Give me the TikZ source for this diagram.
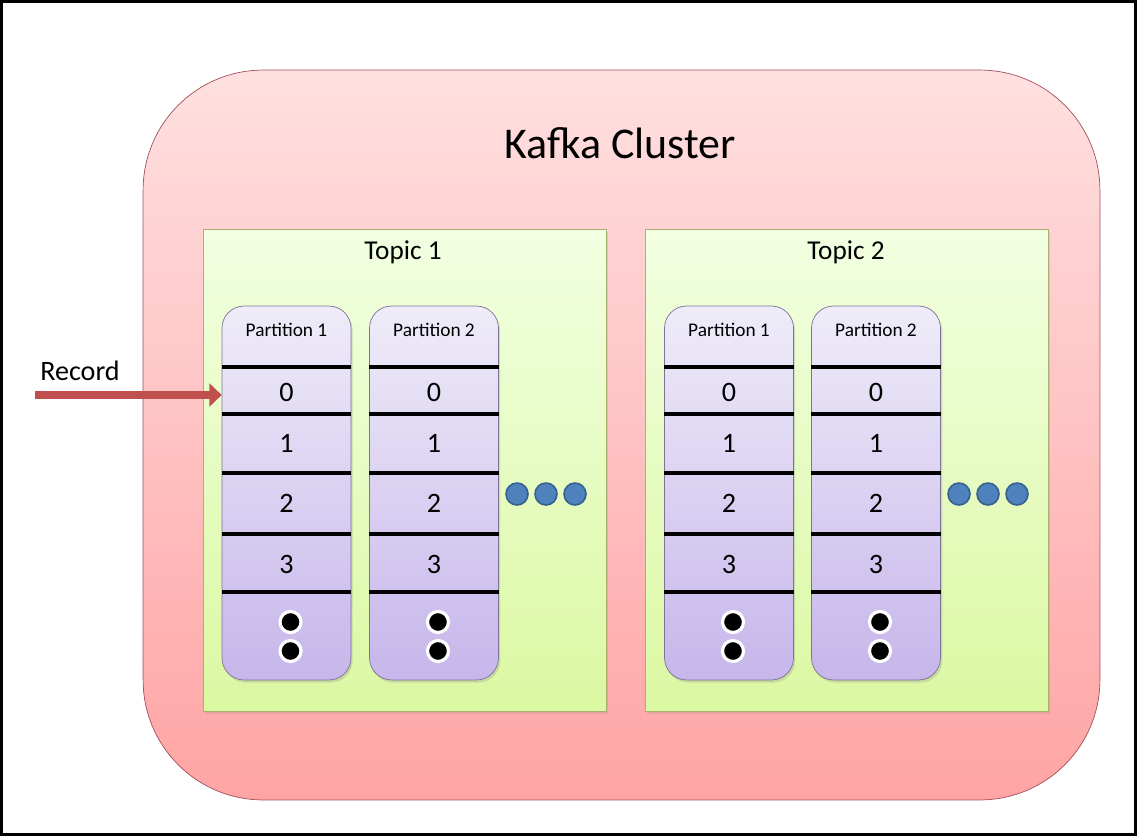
\documentclass[tikz,border=0pt]{standalone}
\usepackage{fontspec}
\setmainfont{Carlito}
\usetikzlibrary{arrows.meta,positioning,shadows}

\definecolor{clusterTop}{HTML}{FFE0E0}
\definecolor{clusterBot}{HTML}{FFA4A4}
\definecolor{clusterLine}{HTML}{A0505A}
\definecolor{topicTop}{HTML}{F2FFE2}
\definecolor{topicBot}{HTML}{DBF8A2}
\definecolor{topicLine}{HTML}{A8B070}
\definecolor{partTop}{HTML}{EFECF9}
\definecolor{partBot}{HTML}{C6B6EA}
\definecolor{partLine}{HTML}{7E7298}
\definecolor{dotBlue}{HTML}{4F81BD}
\definecolor{dotLine}{HTML}{36608F}
\definecolor{recRed}{HTML}{C0504D}

\begin{document}
\begin{tikzpicture}[
    x=0.02cm, y=-0.02cm,
    cluster/.style={rectangle, draw=clusterLine, rounded corners=2.4cm, minimum width=19.14cm, minimum height=14.6cm, top color=clusterTop, bottom color=clusterBot},
    topic/.style={rectangle, draw=topicLine, minimum width=8.06cm, minimum height=9.64cm, top color=topicTop, bottom color=topicBot, drop shadow={opacity=0.2, shadow xshift=1pt, shadow yshift=-1.5pt}},
    partition/.style={rectangle, draw=partLine, rounded corners=0.44cm, minimum width=2.58cm, minimum height=7.48cm, top color=partTop, bottom color=partBot, drop shadow={opacity=0.25, shadow xshift=1pt, shadow yshift=-1.5pt}},
    cell/.style={minimum width=2.58cm, inner sep=0pt, font=\fontsize{16}{16}\selectfont},
    sep/.style={line width=2.2pt, black},
    more/.style={circle, draw=white, fill=black, line width=1.8pt, minimum size=0.42cm, inner sep=0pt, drop shadow={opacity=0.3, shadow xshift=0pt, shadow yshift=-0.8pt}},
    bluedot/.style={circle, draw=dotLine, fill=dotBlue, line width=0.9pt, minimum size=0.44cm, inner sep=0pt},
    recarrow/.style={-{Triangle[length=7pt, width=13pt]}, line width=5pt, recRed}
]
\useasboundingbox (0,0) rectangle (1137,836);
\draw[line width=1.7pt] (1.5,1.5) rectangle (1135.5,834.5);

% Cluster and topics
\node[cluster] (cluster) at (621.5,435) {};
\node[font=\fontsize{25}{25}\selectfont] (title) at (620,143) {Kafka Cluster};

\node[topic] (topic1) at (404.5,470) {};
\node[topic] (topic2) at (847,470) {};
\node[font=\fontsize{15.5}{16}\selectfont] (topic1-lbl) at (403,252) {Topic 1};
\node[font=\fontsize{15.5}{16}\selectfont] (topic2-lbl) at (846,252) {Topic 2};

% Partitions
\foreach \p/\x/\n in {t1p1/286.5/1, t1p2/434/2, t2p1/729/1, t2p2/876/2} {
  \node[partition] (\p) at (\x,493) {};
  \node[font=\fontsize{11}{11}\selectfont] (\p-lbl) at (\x,330) {Partition \n};
  \foreach \y in {367,414,473,534,592}
    \draw[sep] (\p.west |- 0,\y) -- (\p.east |- 0,\y);
  \node[cell] (\p-c0) at (\x,392) {0};
  \node[cell] (\p-c1) at (\x,443) {1};
  \node[cell] (\p-c2) at (\x,503) {2};
  \node[cell] (\p-c3) at (\x,564) {3};
  \node[more] (\p-m1) at (\x+4,622) {};
  \node[more] (\p-m2) at (\x+4,651) {};
}

% More partitions
\foreach \x [count=\i] in {517,546,575} \node[bluedot] (t1more\i) at (\x,494) {};
\foreach \x [count=\i] in {959,988,1017} \node[bluedot] (t2more\i) at (\x,494) {};

% Incoming record
\coordinate (rec) at (35,395);
\node[font=\fontsize{16}{16}\selectfont] (rec-lbl) at (80,371) {Record};
\draw[recarrow] (rec) -- (rec -| t1p1.west);

\end{tikzpicture}
\end{document}
